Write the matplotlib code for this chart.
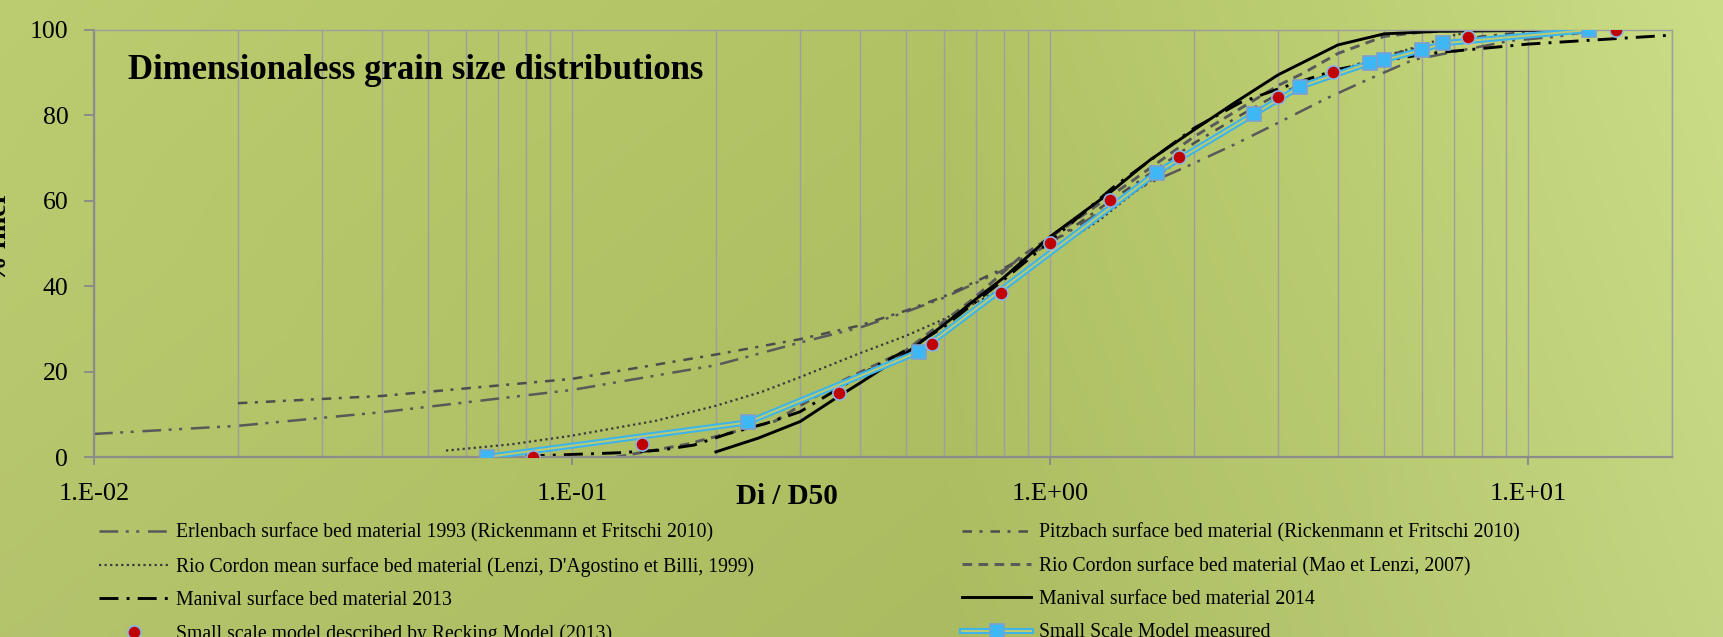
import numpy as np
import matplotlib
matplotlib.use("Agg")
import matplotlib.pyplot as plt
from matplotlib.lines import Line2D
from matplotlib.legend_handler import HandlerTuple
from matplotlib.ticker import FixedLocator, LogLocator, NullFormatter

plt.rcParams['font.family'] = ['Liberation Serif', 'DejaVu Serif']

# grain size curves, Di/D50 vs % finer
erl_x = [0.01, 0.02, 0.04, 0.1, 0.2, 0.3, 0.4, 0.5, 0.6, 0.8, 1.0, 1.3, 1.6, 1.93, 2.42, 2.98, 3.79, 4.6, 5.75, 9.2, 11.4, 14.0]
erl_y = [5.4, 7.3, 10.5, 15.7, 21.5, 26.8, 30.3, 34.0, 37.3, 43.8, 50.0, 58.0, 64.0, 68.0, 73.1, 78.1, 84.0, 88.3, 93.0, 97.5, 98.4, 100.0]

pitz_x = [0.02, 0.04, 0.1, 0.2, 0.3, 0.4, 0.5, 0.6, 0.8, 1.0, 1.3, 1.6, 2.0, 2.5, 3.0, 4.0, 5.0, 6.0, 8.0, 11.0]
pitz_y = [12.6, 14.3, 18.3, 24.0, 27.6, 30.8, 34.3, 37.6, 44.2, 50.0, 59.0, 66.0, 73.5, 80.0, 85.0, 90.5, 94.0, 96.0, 98.5, 100.0]

rcm_x = [0.0545, 0.075, 0.1, 0.15, 0.2, 0.25, 0.3, 0.4, 0.5, 0.6, 0.8, 1.0, 1.27, 1.5, 1.81, 2.0, 3.0, 4.0, 5.4, 7.0, 8.0]
rcm_y = [1.5, 3.0, 5.0, 8.5, 12.0, 15.3, 18.7, 24.3, 28.4, 32.3, 39.6, 48.0, 55.5, 62.0, 68.5, 72.0, 83.6, 90.5, 94.9, 98.8, 100.0]

rcmao_x = [0.124, 0.174, 0.211, 0.266, 0.3, 0.37, 0.5, 0.69, 0.87, 1.1, 1.5, 2.0, 3.0, 3.4, 4.0, 5.0, 6.0, 7.5]
rcmao_y = [0.0, 3.0, 5.5, 8.4, 12.0, 18.0, 25.0, 37.0, 47.0, 54.5, 65.0, 75.0, 87.0, 90.0, 94.5, 98.5, 99.5, 100.0]

m13_x = [0.08, 0.126, 0.153, 0.18, 0.21, 0.255, 0.3, 0.42, 0.5, 0.6, 0.8, 1.0, 1.35, 2.0, 2.5, 3.0, 4.0, 5.0, 6.2, 10.0, 20.0]
m13_y = [0.2, 1.0, 1.6, 2.8, 5.3, 7.9, 10.6, 20.5, 25.0, 30.5, 41.5, 50.5, 63.0, 77.0, 83.0, 86.2, 90.8, 92.8, 94.5, 96.7, 98.8]

m14_x = [0.2, 0.245, 0.3, 0.36, 0.4, 0.5, 0.6, 0.7, 0.8, 1.0, 1.33, 1.62, 2.0, 2.42, 3.0, 4.0, 5.0, 6.5, 13.0]
m14_y = [1.2, 4.4, 8.3, 14.1, 17.3, 24.3, 31.0, 37.0, 42.0, 51.6, 61.8, 69.6, 76.6, 82.8, 89.5, 96.5, 99.1, 99.7, 100.0]

reck_x = [0.083, 0.140, 0.361, 0.565, 0.789, 1.0, 1.335, 1.865, 3.0, 3.9, 7.5, 15.3]
reck_y = [0.0, 3.0, 15.1, 26.4, 38.5, 50.0, 60.1, 70.2, 84.2, 90.1, 98.3, 100.0]

meas_x = [0.0663, 0.233, 0.533, 1.67, 2.67, 3.33, 4.67, 5.0, 6.0, 6.64, 13.4]
meas_y = [0.0, 8.1, 24.7, 66.6, 80.3, 86.7, 92.3, 93.0, 95.3, 96.9, 100.0]

labels = [
    "Erlenbach surface bed material 1993 (Rickenmann et Fritschi 2010)",
    "Pitzbach surface bed material (Rickenmann et Fritschi 2010)",
    "Rio Cordon mean surface bed material (Lenzi, D'Agostino et Billi, 1999)",
    "Rio Cordon surface bed material (Mao et Lenzi, 2007)",
    "Manival surface bed material 2013",
    "Manival surface bed material 2014",
    "Small scale model described by Recking Model (2013)",
    "Small Scale Model measured",
]
xtick_vals = [0.01, 0.1, 1.0, 10.0]
xtick_text = ["1.E-02", "1.E-01", "1.E+00", "1.E+01"]
ytick_vals = [0, 20, 40, 60, 80, 100]

W, H = 1724, 637
fig = plt.figure(figsize=(W / 100, H / 100), dpi=100)

# greenish backdrop
bg = fig.add_axes([0, 0, 1, 1], zorder=-10)
gx = np.linspace(0, 1, 400)
gy = np.linspace(0, 1, 150)
stops = [0.0, 0.3, 0.55, 0.78, 1.0]
cols = np.array([[184, 200, 110], [178, 195, 103], [174, 191, 99], [185, 203, 113], [199, 217, 132]]) / 255.0
img = np.zeros((len(gy), len(gx), 3))
for c in range(3):
    row = np.interp(gx, stops, cols[:, c])
    img[:, :, c] = row[None, :] * (1.0 + 0.04 * (gy[:, None] - 0.5))
bg.imshow(np.clip(img, 0, 1), aspect='auto', extent=[0, 1, 0, 1], origin='lower')
bg.axis('off')

ax = fig.add_axes([94 / W, 1 - 457 / H, (1672 - 94) / W, (457 - 30) / H])
ax.set_facecolor('none')
ax.set_xscale('log')

lw = 1.8
l_erl, = ax.plot(erl_x, erl_y, color='#595959', lw=lw, dashes=(7.5, 3, 1.2, 3, 1.2, 3.5))
l_pitz, = ax.plot(pitz_x, pitz_y, color='#4d4d4d', lw=lw, dashes=(3.8, 3, 1.2, 3.2))
l_rcm, = ax.plot(rcm_x, rcm_y, color='#3a3a3a', lw=1.6, dashes=(1, 1.5))
l_mao, = ax.plot(rcmao_x, rcmao_y, color='#595959', lw=2.1, dashes=(3.3, 2.2))
l_m13, = ax.plot(m13_x, m13_y, color='black', lw=2.1, dashes=(6.5, 2.8, 1, 2.8))
l_m14, = ax.plot(m14_x, m14_y, color='black', lw=2.1)

# measured series: double blue line with square markers
ax.plot(meas_x, meas_y, color='#3cb4ec', lw=4.4, zorder=4, solid_capstyle='butt')
ax.plot(meas_x, meas_y, color='#b8cb72', lw=1.5, zorder=4.1)
ax.plot(meas_x, meas_y, ls='none', marker='s', ms=10, mfc='#3db8f5', mec='#7b9fd0', mew=1.2, zorder=5)
ax.plot(reck_x, reck_y, ls='none', marker='o', ms=9.5, mfc='#c00000', mec='#8db4e2', mew=1.2, zorder=6)

ax.set_xlim(0.01, 20)
ax.set_ylim(0, 100)

ax.xaxis.set_major_locator(FixedLocator(xtick_vals))
ax.set_xticklabels(xtick_text)
ax.xaxis.set_minor_locator(LogLocator(base=10, subs=np.arange(2, 10), numticks=20))
ax.xaxis.set_minor_formatter(NullFormatter())
ax.set_yticks(ytick_vals)
ax.set_yticklabels([str(v) for v in ytick_vals])

ax.grid(True, which='both', axis='x', color='#9e9e9e', lw=1.0)
ax.tick_params(axis='x', which='major', length=6, width=1.4, color='#8c8c8c', pad=13, labelsize=19)
ax.tick_params(axis='x', which='minor', length=0)
ax.tick_params(axis='y', length=7.5, width=1.4, color='#8c8c8c', pad=11, labelsize=18.5)
for side in ['left', 'bottom']:
    ax.spines[side].set_color('#8c8c8c')
    ax.spines[side].set_linewidth(1.6)
for side in ['top', 'right']:
    ax.spines[side].set_color('#9e9e9e')
    ax.spines[side].set_linewidth(1.0)

ax.text(0.0215, 90.6, "Dimensionaless grain size distributions", fontsize=25,
        fontweight='bold', va='center', ha='left', transform=ax.get_yaxis_transform())
fig.text(787 / W, 1 - 496 / H, "Di / D50", fontsize=21, fontweight='bold', ha='center', va='center')
fig.text(12 / W, 1 - 237 / H, "% finer", fontsize=20, fontweight='bold', rotation=90,
         ha='right', va='center')

# legend in two columns
meas_handle = (Line2D([], [], color='#3cb4ec', lw=4.4),
               Line2D([], [], color='#b8cb72', lw=1.5),
               Line2D([], [], ls='none', marker='s', ms=10, mfc='#3db8f5', mec='#7b9fd0', mew=1.2))
reck_handle = Line2D([], [], ls='none', marker='o', ms=9.5, mfc='#c00000', mec='#8db4e2', mew=1.2)

leg_kw = dict(frameon=False, fontsize=14.2, handlelength=3.5, handletextpad=0.4,
              labelspacing=0.72, borderpad=0, borderaxespad=0, loc='upper left',
              handler_map={tuple: HandlerTuple(ndivide=1, pad=0)})
fig.legend([l_erl, l_rcm, l_m13, reck_handle], [labels[0], labels[2], labels[4], labels[6]],
           bbox_to_anchor=(99 / W, 1 - 523 / H), **leg_kw)
fig.legend([l_pitz, l_mao, l_m14, meas_handle], [labels[1], labels[3], labels[5], labels[7]],
           bbox_to_anchor=(962 / W, 1 - 523 / H), **leg_kw)

fig.savefig("out.png", dpi=100)
